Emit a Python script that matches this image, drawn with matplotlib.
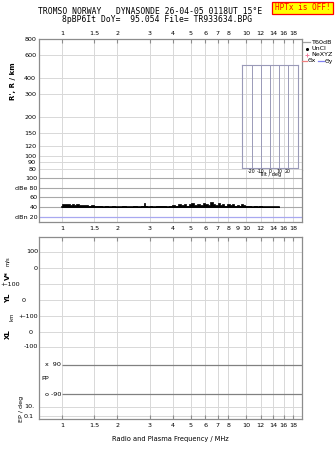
import matplotlib
matplotlib.use('Agg')
import matplotlib.pyplot as plt
from matplotlib.lines import Line2D
from matplotlib.patches import Rectangle

W, H = 335, 451

# frequency axis
freq_ticks = [1, 1.5, 2, 3, 4, 5, 6, 7, 8, 10, 12, 14, 16, 18]
freq_labels = ['1', '1.5', '2', '3', '4', '5', '6', '7', '8', '10', '12', '14', '16', '18']
freq_ticks_db = [1, 1.5, 2, 3, 4, 5, 6, 7, 8, 9, 10, 12, 14, 16, 18]
freq_labels_db = ['1', '1.5', '2', '3', '4', '5', '6', '7', '8', '9', '10', '12', '14', '16', '18']

# height axis
height_ticks = [80, 90, 100, 120, 150, 200, 300, 400, 600, 800]

# noise level dB
db_ticks = [20, 40, 60, 80, 100]
db_labels = ['dBn 20', '40', '60', 'dBe 80', '100']
noise_freq = [1.00, 1.03, 1.06, 1.09, 1.12, 1.15, 1.18, 1.21, 1.25, 1.29, 1.33, 1.37, 1.41,
              1.46, 1.51, 1.56, 1.62, 1.68, 1.75, 1.82, 1.90, 1.98, 2.07, 2.17, 2.27, 2.38,
              2.50, 2.62, 2.75, 2.80, 2.85, 2.95, 3.05, 3.15, 3.30, 3.45, 3.60, 3.75, 3.90,
              4.05, 4.20, 4.35, 4.50, 4.65, 4.80, 4.95, 5.10, 5.30, 5.50, 5.70, 5.90, 6.10,
              6.30, 6.50, 6.70, 6.90, 7.10, 7.30, 7.50, 7.75, 8.00, 8.25, 8.50, 8.75, 9.00,
              9.25, 9.50, 9.75, 10.0, 10.4, 10.8, 11.2, 11.6, 12.0, 12.5, 13.0, 13.5, 14.0,
              14.5, 15.0]
noise_db = [46, 47, 46, 47, 45, 46, 45, 46, 44, 45, 44, 45, 43,
            44, 42, 43, 42, 41, 42, 41, 42, 41, 41, 42, 41, 41,
            42, 41, 42, 49, 43, 41, 42, 41, 42, 43, 42, 41, 43,
            45, 42, 46, 44, 47, 43, 46, 48, 44, 47, 45, 49, 46,
            44, 50, 47, 45, 48, 44, 46, 43, 47, 44, 46, 42, 45,
            43, 47, 44, 42, 43, 41, 42, 41, 42, 41, 41, 41, 41,
            41, 41]

# tilt inset
tilt_ticks = [-20, -10, 0, 10, 20]

GRID = '#d8d8d8'
FRAME = '#8c8c8c'
FS = 4.6


def fx(px):
    return px / W


def fy(py):
    return 1 - py / H


def box(x0, y0, x1, y1):
    return [fx(x0), fy(y1), fx(x1) - fx(x0), fy(y0) - fy(y1)]


def style_freq(ax):
    ax.set_xscale('log')
    ax.set_xlim(0.75, 20.1)
    ax.minorticks_off()
    for s in ax.spines.values():
        s.set_color(FRAME)
        s.set_linewidth(0.9)


fig = plt.figure(figsize=(W / 100, H / 100), dpi=100)
plt.rcParams['font.family'] = 'DejaVu Sans'

# height panel
ax_h = fig.add_axes(box(39, 39, 302, 170))
style_freq(ax_h)
ax_h.set_yscale('log')
ax_h.set_ylim(78, 800)
ax_h.set_yticks(height_ticks)
ax_h.set_yticklabels([str(t) for t in height_ticks], fontsize=FS)
ax_h.yaxis.set_minor_locator(matplotlib.ticker.NullLocator())
ax_h.set_xticks(freq_ticks)
ax_h.set_xticklabels(freq_labels, fontsize=FS)
ax_h.xaxis.tick_top()
ax_h.tick_params(axis='x', direction='in', length=3, color=FRAME, pad=2)
ax_h.tick_params(axis='y', length=0, pad=2)
ax_h.grid(True, color=GRID, lw=0.7)
ax_h.spines['bottom'].set_visible(False)

# noise panel
ax_d = fig.add_axes(box(39, 170, 302, 222))
style_freq(ax_d)
ax_d.set_ylim(9.7, 116.4)
ax_d.set_yticks(db_ticks)
ax_d.set_yticklabels(db_labels, fontsize=FS)
ax_d.set_xticks(freq_ticks_db)
ax_d.set_xticklabels(freq_labels_db, fontsize=FS)
ax_d.tick_params(axis='x', length=0, pad=3)
ax_d.tick_params(axis='y', length=0, pad=1)
ax_d.spines['top'].set_visible(False)
for f in freq_ticks:
    ax_d.axvline(f, color=GRID, lw=0.7, zorder=0)
for v in db_ticks[1:]:
    ax_d.axhline(v, color='#a8a8a8', lw=0.8, zorder=1)
ax_d.axhline(db_ticks[0], color='#a8a8f0', lw=0.9, zorder=1)
ax_d.fill_between(noise_freq, 40, noise_db, step='mid', color='black', lw=0.5, zorder=3)
ax_d.plot(noise_freq, [40.5] * len(noise_freq), color='black', lw=1.2, zorder=3)

# tilt inset
ax_t = fig.add_axes(box(242, 65, 298, 168))
ax_t.set_xlim(-31, 31)
ax_t.set_ylim(0, 1)
ax_t.patch.set_alpha(0)
for s in ax_t.spines.values():
    s.set_color('#9a9ab8')
    s.set_linewidth(0.8)
for t in tilt_ticks:
    ax_t.axvline(t, color='#9a9ab8', lw=0.7)
ax_t.set_yticks([])
ax_t.set_xticks(tilt_ticks)
ax_t.set_xticklabels(['-20', '-10', '0', '10', '20'], fontsize=3.4)
ax_t.tick_params(axis='x', length=0, pad=0.5)
fig.text(fx(270), fy(175), 'Tilt / deg', fontsize=3.6, ha='center', va='center')

# bottom panel
ax_b = fig.add_axes(box(39, 237, 302, 419))
style_freq(ax_b)
ax_b.set_ylim(419, 237)
ax_b.set_yticks([])
ax_b.set_xticks(freq_ticks)
ax_b.set_xticklabels(freq_labels, fontsize=FS)
ax_b.tick_params(axis='x', length=3, pad=3, color=FRAME)
ax_b.tick_params(axis='x', which='both', top=True, direction='in')
for f in freq_ticks:
    ax_b.axvline(f, color=GRID, lw=0.7, zorder=0)
for row in [252, 268, 284, 300, 316, 332, 347, 407, 416]:
    ax_b.axhline(row, color=GRID, lw=0.7, zorder=0)
for row in [365, 394]:
    ax_b.hlines(row, 1, 20.1, color='#808080', lw=0.9)
ax_b.set_xlabel('Radio and Plasma Frequency / MHz', fontsize=FS + 0.2, labelpad=6)

row_labels = [(39, 252, '100'), (39, 268, '0'), (21, 284, '+-100'), (27, 300, '0'),
              (39, 316, '+-100'), (34, 332, '0'), (39, 347, '-100'), (62, 365, 'x  90'),
              (50, 379, 'PP'), (62, 394, 'o -90'), (35, 407, '10.'), (35, 416, '0.1')]
for x, y, s in row_labels:
    fig.text(fx(x - 1), fy(y), s, fontsize=FS, ha='right', va='center')

# axis titles
fig.text(fx(13), fy(81), "R', R / km", fontsize=FS + 0.4, rotation=90, ha='center', va='center',
         fontweight='bold')
fig.text(fx(8), fy(275), 'V*', fontsize=FS + 0.4, rotation=90, ha='center', va='center',
         fontweight='bold')
fig.text(fx(8), fy(261), 'm/s', fontsize=FS - 0.8, rotation=90, ha='center', va='center')
fig.text(fx(8), fy(298), 'YL', fontsize=FS + 0.4, rotation=90, ha='center', va='center',
         fontweight='bold')
fig.text(fx(12), fy(317), 'km', fontsize=FS - 0.8, rotation=90, ha='center', va='center')
fig.text(fx(8), fy(334), 'XL', fontsize=FS + 0.4, rotation=90, ha='center', va='center',
         fontweight='bold')
fig.text(fx(21), fy(409), 'EP / deg', fontsize=FS, rotation=90, ha='center', va='center')

# legend
leg = [(42, 'T60dB', '#a0a0a0', '-'), (49, 'UnCl', 'black', '.'), (55, 'NeXYZ', '#f080a0', '+')]
for y, s, c, m in leg:
    if m == '-':
        fig.add_artist(Line2D([fx(303), fx(310)], [fy(y), fy(y)], color=c, lw=0.9))
    else:
        fig.add_artist(Line2D([fx(306.5)], [fy(y)], color=c, marker=m, ms=3, mew=0.7))
    fig.text(fx(311), fy(y), s, fontsize=FS, va='center')
fig.add_artist(Line2D([fx(302), fx(307)], [fy(61), fy(61)], color='#f08080', lw=0.9))
fig.text(fx(307.5), fy(61), '\u0398x', fontsize=FS - 0.3, va='center')
fig.add_artist(Line2D([fx(318), fx(324)], [fy(61), fy(61)], color='#8080f0', lw=0.9))
fig.text(fx(324.5), fy(61), '\u0398y', fontsize=FS - 0.3, va='center')

# header
fig.text(fx(150), fy(12), 'TROMSO NORWAY   DYNASONDE 26-04-05 0118UT 15\u00b0E',
         family='DejaVu Sans Mono', fontsize=5.8, ha='center', va='center')
fig.text(fx(157), fy(20), '8pBP6It DoY=  95.054 File= TR933634.BPG',
         family='DejaVu Sans Mono', fontsize=5.8, ha='center', va='center')
fig.add_artist(Rectangle((fx(272), fy(14)), fx(333) - fx(272), fy(2) - fy(14),
                         facecolor='#ffff00', edgecolor='red', lw=0.9))
fig.text(fx(302.5), fy(8), 'HPTx is OFF!', family='DejaVu Sans Mono', fontsize=5.6,
         color='red', ha='center', va='center')

fig.savefig('out.png', dpi=100)
